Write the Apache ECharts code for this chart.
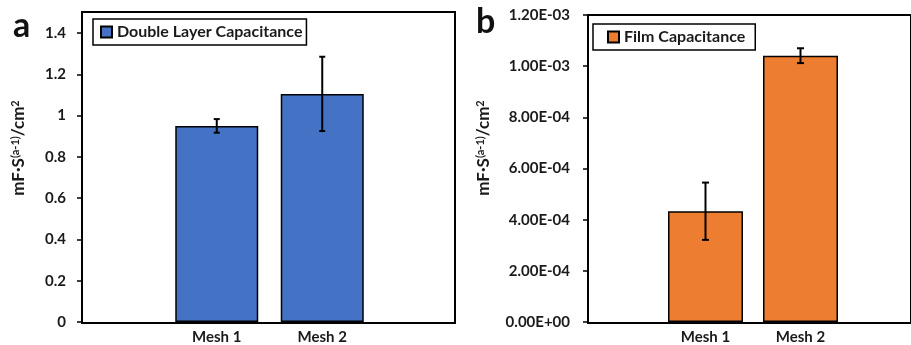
<!DOCTYPE html>
<html>
<head>
<meta charset="utf-8">
<script src="https://cdn.jsdelivr.net/npm/echarts@6/dist/echarts.min.js"></script>
<style>
html,body{margin:0;padding:0;background:#fff;}
#c{width:911px;height:345px;}
</style>
</head>
<body>
<div id="c"></div>
<script>
const categories = ['Mesh 1', 'Mesh 2'];
const dlValues = [0.95, 1.105];
const dlErrors = [0.033, 0.18];
const filmValues = [4.33e-4, 1.041e-3];
const filmErrors = [1.12e-4, 2.9e-5];
const leftAxis = { min: 0, max: 1.4, interval: 0.2 };
const rightAxis = { min: 0, max: 1.2e-3, interval: 2e-4 };
const dlName = 'Double Layer Capacitance';
const filmName = 'Film Capacitance';

const FONT = 'Lato';
const chart = echarts.init(document.getElementById('c'));

function sci(v) {
  if (Math.abs(v) < 1e-12) return '0.00E+00';
  let e = Math.floor(Math.log10(Math.abs(v)) + 1e-9);
  let m = v / Math.pow(10, e);
  if (Math.abs(m) >= 9.995) { m /= 10; e += 1; }
  return m.toFixed(2) + 'E' + (e < 0 ? '-' : '+') + String(Math.abs(e)).padStart(2, '0');
}

function errRender(cap) {
  return function (params, api) {
    const i = api.value(0), y = api.value(1), e = api.value(2);
    const t = api.coord([i, y + e]);
    const b = api.coord([i, y - e]);
    const st = { stroke: '#000', lineWidth: 2 };
    return {
      type: 'group',
      children: [
        { type: 'line', shape: { x1: t[0], y1: t[1], x2: b[0], y2: b[1] }, style: st },
        { type: 'line', shape: { x1: t[0] - cap, y1: t[1], x2: t[0] + cap, y2: t[1] }, style: st },
        { type: 'line', shape: { x1: b[0] - cap, y1: b[1], x2: b[0] + cap, y2: b[1] }, style: st }
      ]
    };
  };
}

const labelStyle = { color: '#1a1a1a', fontFamily: FONT, fontWeight: 'bold', fontSize: 15 };
const nameRich = {
  a: { fontFamily: FONT, fontWeight: 'bold', fontSize: 17, lineHeight: 19, fill: '#1a1a1a', color: '#1a1a1a' },
  s: { fontFamily: FONT, fontWeight: 'bold', fontSize: 11, lineHeight: 11, verticalAlign: 'top', fill: '#1a1a1a', color: '#1a1a1a' }
};

const option = {
  backgroundColor: '#fff',
  animation: false,
  grid: [
    { left: 82, top: 12, width: 373, height: 311, show: true, borderColor: '#000', borderWidth: 2, backgroundColor: 'transparent' },
    { left: 164, top: 33, width: 211, height: 290 },
    { left: 588, top: 15, width: 340, height: 308, show: true, borderColor: '#000', borderWidth: 2, backgroundColor: 'transparent' },
    { left: 658, top: 15, width: 190, height: 308 }
  ],
  xAxis: [
    { gridIndex: 0, type: 'category', data: [], show: false },
    { gridIndex: 1, type: 'category', data: categories, axisLine: { show: false }, axisTick: { show: false },
      axisLabel: Object.assign({ margin: 8 }, labelStyle) },
    { gridIndex: 2, type: 'category', data: [], show: false },
    { gridIndex: 3, type: 'category', data: categories, axisLine: { show: false }, axisTick: { show: false },
      axisLabel: Object.assign({ margin: 8 }, labelStyle) }
  ],
  yAxis: [
    { gridIndex: 0, type: 'value', show: false },
    { gridIndex: 1, type: 'value', min: leftAxis.min, max: leftAxis.max, interval: leftAxis.interval, offset: 82,
      axisLine: { show: true, lineStyle: { color: '#000', width: 2 } },
      axisTick: { show: true, length: 5, lineStyle: { color: '#000', width: 1.5 } },
      splitLine: { show: false },
      axisLabel: Object.assign({ margin: 16 }, labelStyle) },
    { gridIndex: 2, type: 'value', show: false },
    { gridIndex: 3, type: 'value', min: rightAxis.min, max: rightAxis.max, interval: rightAxis.interval, offset: 70,
      axisLine: { show: true, lineStyle: { color: '#000', width: 2 } },
      axisTick: { show: true, length: 5, lineStyle: { color: '#000', width: 1.5 } },
      splitLine: { show: false },
      axisLabel: Object.assign({ margin: 18, formatter: sci }, labelStyle) }
  ],
  legend: [
    { data: [{ name: dlName, icon: 'rect' }], left: 93, top: 19, orient: 'horizontal', itemWidth: 11, itemHeight: 11,
      padding: [5, 4, 5, 7], borderColor: '#000', borderWidth: 1.5, backgroundColor: '#fff',
      textStyle: { fontFamily: FONT, fontWeight: 'bold', fontSize: 16, color: '#1a1a1a' } },
    { data: [{ name: filmName, icon: 'rect' }], left: 593, top: 24, orient: 'horizontal', itemWidth: 11, itemHeight: 11,
      padding: [5, 10, 5, 14], borderColor: '#000', borderWidth: 1.5, backgroundColor: '#fff',
      textStyle: { fontFamily: FONT, fontWeight: 'bold', fontSize: 16, color: '#1a1a1a' } }
  ],
  series: [
    { name: dlName, type: 'bar', xAxisIndex: 1, yAxisIndex: 1, data: dlValues, barWidth: 83,
      itemStyle: { color: '#4472C4', borderColor: '#000', borderWidth: 1.5 } },
    { type: 'custom', xAxisIndex: 1, yAxisIndex: 1, z: 10, renderItem: errRender(3),
      data: categories.map((c, i) => [i, dlValues[i], dlErrors[i]]) },
    { name: filmName, type: 'bar', xAxisIndex: 3, yAxisIndex: 3, data: filmValues, barWidth: 75,
      itemStyle: { color: '#ED7D31', borderColor: '#000', borderWidth: 1.5 } },
    { type: 'custom', xAxisIndex: 3, yAxisIndex: 3, z: 10, renderItem: errRender(3.5),
      data: categories.map((c, i) => [i, filmValues[i], filmErrors[i]]) }
  ],
  graphic: [
    { type: 'text', left: 13, top: 9, style: { text: 'a', fontFamily: FONT, fontWeight: 'bold', fontSize: 34, fill: '#111' } },
    { type: 'text', left: 476, top: 5, style: { text: 'b', fontFamily: FONT, fontWeight: 'bold', fontSize: 34, fill: '#111' } },
    { type: 'text', x: 19, y: 148, rotation: Math.PI / 2,
      style: { text: '{a|mF·S}{s|(a-1)}{a|/cm}{s|2}', rich: nameRich, align: 'center', verticalAlign: 'middle' } },
    { type: 'text', x: 484, y: 148, rotation: Math.PI / 2,
      style: { text: '{a|mF·S}{s|(a-1)}{a|/cm}{s|2}', rich: nameRich, align: 'center', verticalAlign: 'middle' } }
  ]
};
chart.setOption(option);
</script>
</body>
</html>
